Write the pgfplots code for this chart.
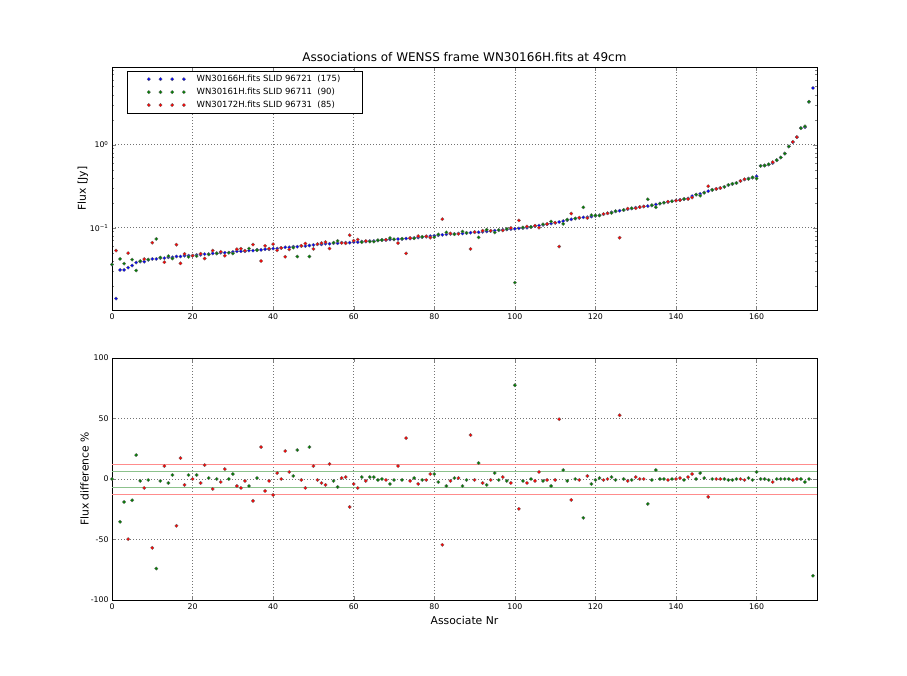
\documentclass[border=0pt]{standalone}
\usepackage{pgfplots}
\pgfplotsset{compat=1.18}
\usepackage{pgfplotstable}
\usepackage{fontspec}
\setmainfont{DejaVu Sans}

\definecolor{mblue}{rgb}{0,0,1}
\definecolor{mgreen}{rgb}{0,0.5,0}
\definecolor{mred}{rgb}{1,0,0}
\definecolor{lred}{rgb}{1,0.55,0.55}
\definecolor{lgreen}{rgb}{0.55,0.76,0.55}

% blue: reference flux of WN30166H
\pgfplotstableread{
x f
0 0.036
1 0.014
2 0.031
3 0.031
4 0.033
5 0.035
6 0.038
7 0.039
8 0.039
9 0.041
10 0.042
11 0.042
12 0.043
13 0.043
14 0.044
15 0.044
16 0.045
17 0.045
18 0.046
19 0.046
20 0.046
21 0.047
22 0.047
23 0.048
24 0.048
25 0.049
26 0.049
27 0.050
28 0.050
29 0.050
30 0.051
31 0.052
32 0.052
33 0.052
34 0.053
35 0.053
36 0.054
37 0.054
38 0.055
39 0.055
40 0.056
41 0.056
42 0.057
43 0.058
44 0.058
45 0.059
46 0.059
47 0.060
48 0.060
49 0.061
50 0.062
51 0.063
52 0.063
53 0.064
54 0.064
55 0.065
56 0.065
57 0.066
58 0.066
59 0.066
60 0.067
61 0.067
62 0.068
63 0.068
64 0.069
65 0.069
66 0.070
67 0.071
68 0.071
69 0.072
70 0.072
71 0.073
72 0.073
73 0.074
74 0.074
75 0.075
76 0.076
77 0.077
78 0.078
79 0.079
80 0.080
81 0.081
82 0.082
83 0.083
84 0.084
85 0.084
86 0.085
87 0.085
88 0.086
89 0.087
90 0.088
91 0.088
92 0.089
93 0.090
94 0.091
95 0.092
96 0.093
97 0.094
98 0.095
99 0.096
100 0.097
101 0.098
102 0.099
103 0.100
104 0.102
105 0.104
106 0.106
107 0.108
108 0.110
109 0.112
110 0.114
111 0.117
112 0.120
113 0.123
114 0.126
115 0.129
116 0.131
117 0.133
118 0.134
119 0.136
120 0.139
121 0.141
122 0.145
123 0.149
124 0.153
125 0.157
126 0.160
127 0.163
128 0.167
129 0.170
130 0.174
131 0.177
132 0.180
133 0.182
134 0.185
135 0.190
136 0.195
137 0.200
138 0.204
139 0.208
140 0.212
141 0.216
142 0.220
143 0.225
144 0.240
145 0.250
146 0.255
147 0.265
148 0.275
149 0.285
150 0.293
151 0.300
152 0.310
153 0.325
154 0.335
155 0.345
156 0.365
157 0.380
158 0.390
159 0.400
160 0.415
161 0.555
162 0.560
163 0.575
164 0.600
165 0.650
166 0.700
167 0.780
168 0.950
169 1.070
170 1.230
171 1.580
172 1.620
173 3.280
174 4.800
}\blue

% green: WN30161H, flux and difference in %
\pgfplotstableread{
x f d
0 0.036 0
2 0.042 -35.4
3 0.0369 -19
5 0.0412 -17.6
6 0.0305 19.8
7 0.0396 -1.6
9 0.0413 -0.8
11 0.0731 -74
12 0.0437 -1.6
14 0.0455 -3.3
15 0.0425 3.3
19 0.0445 3.3
21 0.0454 3.3
24 0.0476 0.8
26 0.049 0
29 0.050 0
30 0.0489 4.1
34 0.0561 -5.8
36 0.0536 0.8
45 0.0575 2.5
46 0.0449 23.9
49 0.0449 26.4
55 0.0660 -1.6
56 0.0693 -6.6
62 0.0669 1.6
64 0.0679 1.6
65 0.0679 1.6
66 0.0706 -0.8
67 0.071 0
69 0.0750 -4.1
70 0.0726 -0.8
72 0.0736 -0.8
75 0.0744 0.8
77 0.0776 -0.8
80 0.0767 4.1
81 0.0830 -2.5
83 0.0878 -5.8
85 0.0833 0.8
87 0.0899 -5.8
88 0.0867 -0.8
91 0.0764 13.2
93 0.0944 -4.9
95 0.0875 4.9
96 0.0937 -0.8
98 0.0965 -1.6
100 0.0218 77.5
102 0.1006 -1.6
104 0.102 0
107 0.1097 -1.6
109 0.1185 -5.8
112 0.1111 7.4
113 0.1250 -1.6
115 0.129 0
117 0.1757 -32.1
119 0.1416 -4.1
120 0.1401 -0.8
121 0.1399 0.8
124 0.1506 1.6
125 0.1583 -0.8
127 0.163 0
129 0.1714 -0.8
133 0.2195 -20.6
134 0.1865 -0.8
135 0.1759 7.4
136 0.195 0
137 0.200 0
139 0.208 0
142 0.2218 -0.8
145 0.250 0
146 0.2425 4.9
147 0.2629 0.8
149 0.285 0
152 0.310 0
153 0.3276 -0.8
154 0.3377 -0.8
155 0.345 0
158 0.3869 0.8
159 0.4032 -0.8
160 0.3909 5.8
161 0.555 0
162 0.560 0
163 0.5796 -0.8
165 0.650 0
166 0.700 0
167 0.780 0
168 0.950 0
171 1.580 0
172 1.6605 -2.5
173 3.280 0
174 8.640 -80
}\green

% red: WN30172H, flux and difference in %
\pgfplotstableread{
x f d
1 0.053 -279
4 0.0494 -49.7
8 0.0419 -7.4
10 0.0659 -56.9
13 0.0384 10.7
16 0.0624 -38.7
17 0.0372 17.3
18 0.0483 -4.9
20 0.046 0
22 0.0486 -3.3
23 0.0425 11.5
25 0.0530 -8.2
27 0.0513 -2.5
28 0.0459 8.2
31 0.0550 -5.8
32 0.0558 -7.4
33 0.0528 -1.6
35 0.0626 -18.1
37 0.0397 26.4
38 0.0604 -9.9
39 0.0559 -1.6
40 0.0634 -13.2
41 0.0533 4.9
42 0.057 0
43 0.0446 23.1
44 0.0546 5.8
47 0.0605 -0.8
48 0.0644 -7.4
50 0.0554 10.7
51 0.0635 -0.8
52 0.0651 -3.3
53 0.0671 -4.9
54 0.0561 12.4
57 0.0655 0.8
58 0.0649 1.6
59 0.0812 -23.1
60 0.0697 -4.1
61 0.0720 -7.4
63 0.0691 -1.6
68 0.0716 -0.8
71 0.0652 10.7
73 0.0490 33.8
74 0.0752 -1.6
76 0.0791 -4.1
78 0.0786 -0.8
79 0.0758 4.1
82 0.1266 -54.4
84 0.0853 -1.6
86 0.0843 0.8
89 0.0554 36.3
90 0.0887 -0.8
92 0.0919 -3.3
94 0.0917 -0.8
97 0.0925 1.6
99 0.0992 -3.3
101 0.1222 -24.7
103 0.1033 -3.3
105 0.1057 -1.6
106 0.0999 5.8
108 0.1109 -0.8
110 0.1149 -0.8
111 0.0592 49.4
114 0.1478 -17.3
116 0.1320 -0.8
118 0.1307 2.5
122 0.1462 -0.8
123 0.149 0
126 0.0757 52.7
128 0.1697 -1.6
130 0.1712 1.6
131 0.177 0
132 0.180 0
138 0.2056 -0.8
140 0.212 0
141 0.2143 0.8
143 0.2214 1.6
144 0.2302 4.1
148 0.3157 -14.8
150 0.293 0
151 0.300 0
156 0.365 0
157 0.3830 -0.8
164 0.615 -2.5
169 1.0786 -0.8
170 1.230 0
}\red

\pgfplotsset{
  panel/.style={
    scale only axis, width=705pt, anchor=south west,
    xmin=0, xmax=175, xtick={0,20,...,160},
    tick align=inside,
    major tick length=4pt, minor tick length=2pt,
    grid=major,
    major grid style={black!55, line width=0.5pt, dash pattern=on 1pt off 2pt},
    axis line style={line width=0.8pt},
    ticklabel style={font=\fontsize{7.8}{9}\selectfont},
    /pgf/number format/assume math mode=true,
    label style={font=\fontsize{10.8}{12}\selectfont},
    ylabel style={yshift=-5pt},
  },
  dot/.style={only marks, mark=*, mark size=1.7pt,
    mark options={fill=#1, draw=black!60, line width=0.3pt}},
}

\begin{document}
\begin{tikzpicture}
\path[use as bounding box] (0pt,0pt) rectangle (907pt,675pt);

\begin{axis}[panel,
  at={(112pt,365pt)}, height=243pt,
  ymode=log, ymin=0.0102, ymax=8.6,
  ytick={0.1,1},
  yticklabels={10\textsuperscript{−1},10\textsuperscript{0}},
  minor ytick={0.02,0.03,0.04,0.05,0.06,0.07,0.08,0.09,0.2,0.3,0.4,0.5,0.6,0.7,0.8,0.9,2,3,4,5,6,7,8},
  ylabel={Flux [Jy]},
  title={Associations of WENSS frame WN30166H.fits at 49cm},
  title style={font=\fontsize{12}{14}\selectfont, yshift=-4pt},
  legend style={at={(0.021,0.984)}, anchor=north west, draw=black, line width=0.6pt,
    font=\fontsize{8.5}{10}\selectfont, inner xsep=20pt, inner ysep=2pt, row sep=1pt,
    cells={anchor=west},
    /tikz/every odd column/.append style={column sep=9pt}},
  legend image code/.code={\draw[#1] plot coordinates {(0pt,0pt) (11.7pt,0pt) (23.4pt,0pt) (35.1pt,0pt)};},
]
\addplot[dot=mblue] table[x=x, y=f] {\blue};
\addplot[dot=mgreen] table[x=x, y=f] {\green};
\addplot[dot=mred] table[x=x, y=f] {\red};
\legend{WN30166H.fits SLID 96721~~(175), WN30161H.fits SLID 96711~~(90), WN30172H.fits SLID 96731~~(85)}
\end{axis}

\begin{axis}[panel,
  at={(112pt,75pt)}, height=242pt,
  ymin=-100, ymax=100, ytick={-100,-50,0,50,100},
  ylabel={Flux difference \%},
  xlabel={Associate Nr},
]
\addplot[lred, line width=0.9pt, forget plot] coordinates {(0,12) (175,12)};
\addplot[lred, line width=0.9pt, forget plot] coordinates {(0,-12.9) (175,-12.9)};
\addplot[lgreen, line width=0.9pt, forget plot] coordinates {(0,6.1) (175,6.1)};
\addplot[lgreen, line width=0.9pt, forget plot] coordinates {(0,-6.7) (175,-6.7)};
\addplot[dot=mgreen] table[x=x, y=d] {\green};
\addplot[dot=mred] table[x=x, y=d] {\red};
\end{axis}
\end{tikzpicture}
\end{document}
